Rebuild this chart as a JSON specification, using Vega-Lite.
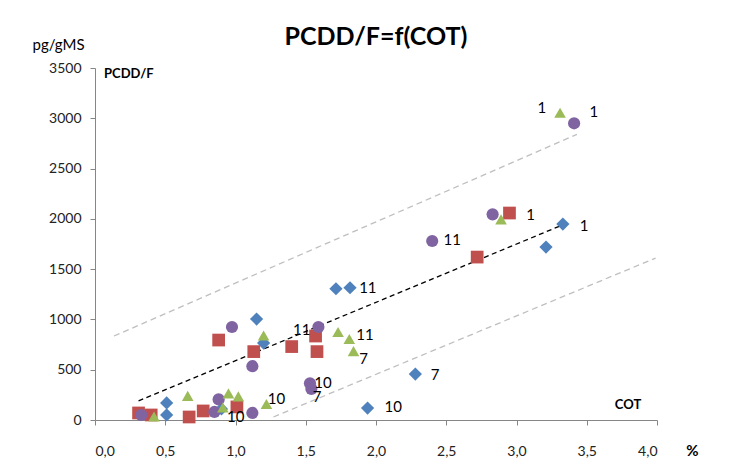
{
  "$schema": "https://vega.github.io/schema/vega-lite/v6.json",
  "autosize": {"type": "none"},
  "width": 562,
  "height": 352,
  "padding": {"left": 95, "top": 68, "right": 74, "bottom": 50},
  "background": "white",
  "config": {
    "view": {"stroke": null},
    "font": "Lato",
    "axis": {"grid": false, "domainColor": "#868686", "tickColor": "#868686", "labelColor": "#222222", "labelFont": "Lato", "labelFontSize": 14, "titleFont": "Lato"}
  },
  "title": {"text": "PCDD/F=f(COT)", "fontSize": 25, "fontWeight": "bold", "font": "Lato", "anchor": "middle", "offset": -13, "color": "#000000"},
  "datasets": {
    "points": [
      {"series": "A", "cot": 0.51, "pcdd": 50},
      {"series": "A", "cot": 0.51, "pcdd": 170},
      {"series": "A", "cot": 0.9, "pcdd": 110},
      {"series": "A", "cot": 1.15, "pcdd": 1004},
      {"series": "A", "cot": 1.2, "pcdd": 765},
      {"series": "A", "cot": 1.715, "pcdd": 1305},
      {"series": "A", "cot": 1.815, "pcdd": 1315},
      {"series": "A", "cot": 2.28, "pcdd": 457},
      {"series": "A", "cot": 1.94, "pcdd": 119},
      {"series": "A", "cot": 3.21, "pcdd": 1720},
      {"series": "A", "cot": 3.33, "pcdd": 1948},
      {"series": "B", "cot": 0.31, "pcdd": 70},
      {"series": "B", "cot": 0.4, "pcdd": 50},
      {"series": "B", "cot": 0.67, "pcdd": 30},
      {"series": "B", "cot": 0.77, "pcdd": 90},
      {"series": "B", "cot": 1.01, "pcdd": 130},
      {"series": "B", "cot": 0.88, "pcdd": 795},
      {"series": "B", "cot": 1.13, "pcdd": 680},
      {"series": "B", "cot": 1.4, "pcdd": 730},
      {"series": "B", "cot": 1.57, "pcdd": 835},
      {"series": "B", "cot": 1.58, "pcdd": 680},
      {"series": "B", "cot": 2.72, "pcdd": 1620},
      {"series": "B", "cot": 2.95, "pcdd": 2058},
      {"series": "C", "cot": 0.33, "pcdd": 50},
      {"series": "C", "cot": 0.88, "pcdd": 205},
      {"series": "C", "cot": 0.85, "pcdd": 80},
      {"series": "C", "cot": 1.12, "pcdd": 70},
      {"series": "C", "cot": 0.975, "pcdd": 925},
      {"series": "C", "cot": 1.12, "pcdd": 535},
      {"series": "C", "cot": 1.59, "pcdd": 925},
      {"series": "C", "cot": 1.53, "pcdd": 365},
      {"series": "C", "cot": 1.54, "pcdd": 310},
      {"series": "C", "cot": 2.4, "pcdd": 1780},
      {"series": "C", "cot": 2.83, "pcdd": 2045},
      {"series": "C", "cot": 3.41, "pcdd": 2950},
      {"series": "D", "cot": 0.42, "pcdd": 35},
      {"series": "D", "cot": 0.66, "pcdd": 240},
      {"series": "D", "cot": 0.95, "pcdd": 265},
      {"series": "D", "cot": 1.02, "pcdd": 235},
      {"series": "D", "cot": 0.91, "pcdd": 125},
      {"series": "D", "cot": 1.22, "pcdd": 160},
      {"series": "D", "cot": 1.2, "pcdd": 840},
      {"series": "D", "cot": 1.73, "pcdd": 875},
      {"series": "D", "cot": 1.81, "pcdd": 805},
      {"series": "D", "cot": 1.84, "pcdd": 685},
      {"series": "D", "cot": 2.89, "pcdd": 1995},
      {"series": "D", "cot": 3.31, "pcdd": 3055}
    ],
    "labels": [
      {"text": "1", "cot": 3.52, "pcdd": 3062},
      {"text": "1", "cot": 3.15, "pcdd": 3100},
      {"text": "1", "cot": 3.07, "pcdd": 2038},
      {"text": "1", "cot": 3.45, "pcdd": 1928},
      {"text": "11", "cot": 2.48, "pcdd": 1790},
      {"text": "11", "cot": 1.88, "pcdd": 1312},
      {"text": "11", "cot": 1.41, "pcdd": 895},
      {"text": "11", "cot": 1.86, "pcdd": 845},
      {"text": "7", "cot": 1.88, "pcdd": 606},
      {"text": "10", "cot": 1.56, "pcdd": 368},
      {"text": "7", "cot": 1.55, "pcdd": 229},
      {"text": "7", "cot": 2.39, "pcdd": 447},
      {"text": "10", "cot": 1.23, "pcdd": 209},
      {"text": "10", "cot": 2.06, "pcdd": 129},
      {"text": "10", "cot": 0.94, "pcdd": 30}
    ],
    "trend": [
      {"line": "mid", "cot": 0.31, "pcdd": 190},
      {"line": "mid", "cot": 3.38, "pcdd": 1970}
    ],
    "bounds": [
      {"line": "upper", "cot": 0.135, "pcdd": 835},
      {"line": "upper", "cot": 3.43, "pcdd": 2840},
      {"line": "lower", "cot": 1.27, "pcdd": 30},
      {"line": "lower", "cot": 3.99, "pcdd": 1610}
    ],
    "notes": [
      {"text": "PCDD/F", "cot": 0.064, "pcdd": 3440},
      {"text": "COT", "cot": 3.7, "pcdd": 150}
    ]
  },
  "encoding": {
    "x": {"field": "cot", "type": "quantitative", "scale": {"domain": [0, 4], "nice": false, "zero": false},
      "axis": {"values": [0, 0.5, 1, 1.5, 2, 2.5, 3, 3.5, 4], "labelExpr": "replace(format(datum.value, '.1f'), '.', ',')", "tickSize": 5, "labelPadding": 19, "title": "%", "titleFontSize": 15, "titleFontWeight": "bold", "titleX": 597, "titleY": 30, "titleAlign": "center", "titleBaseline": "middle", "titleColor": "#000000"}},
    "y": {"field": "pcdd", "type": "quantitative", "scale": {"domain": [0, 3500], "nice": false},
      "axis": {"values": [0, 500, 1000, 1500, 2000, 2500, 3000, 3500], "format": "d", "tickSize": 5, "labelPadding": 9, "title": "pg/gMS", "titleFontSize": 15, "titleFontWeight": "normal", "titleAngle": 0, "titleX": -37, "titleY": -24, "titleAlign": "center", "titleBaseline": "middle", "titleColor": "#000000"}}
  },
  "layer": [
    {
      "data": {"name": "bounds"},
      "mark": {"type": "line", "color": "#BFBFBF", "strokeDash": [6, 4], "strokeWidth": 1.3},
      "encoding": {"detail": {"field": "line"}}
    },
    {
      "data": {"name": "trend"},
      "mark": {"type": "line", "color": "#000000", "strokeDash": [5, 3.5], "strokeWidth": 1.3},
      "encoding": {"detail": {"field": "line"}}
    },
    {
      "data": {"name": "points"},
      "mark": {"type": "point", "filled": true, "opacity": 1},
      "encoding": {
        "color": {"field": "series", "type": "nominal", "scale": {"domain": ["A", "B", "C", "D"], "range": ["#4F81BD", "#C0504D", "#8064A2", "#9BBB59"]}, "legend": null},
        "shape": {"field": "series", "type": "nominal", "scale": {"domain": ["A", "B", "C", "D"], "range": ["diamond", "square", "circle", "triangle-up"]}, "legend": null},
        "size": {"field": "series", "type": "nominal", "scale": {"domain": ["A", "B", "C", "D"], "range": [175, 135, 145, 200]}, "legend": null}
      }
    },
    {
      "data": {"name": "labels"},
      "mark": {"type": "text", "align": "left", "baseline": "middle", "fontSize": 15, "font": "Lato", "color": "#000000"},
      "encoding": {"text": {"field": "text"}}
    },
    {
      "data": {"name": "notes"},
      "mark": {"type": "text", "align": "left", "baseline": "middle", "fontSize": 13, "fontWeight": "bold", "font": "Lato", "color": "#000000"},
      "encoding": {"text": {"field": "text"}}
    }
  ]
}
